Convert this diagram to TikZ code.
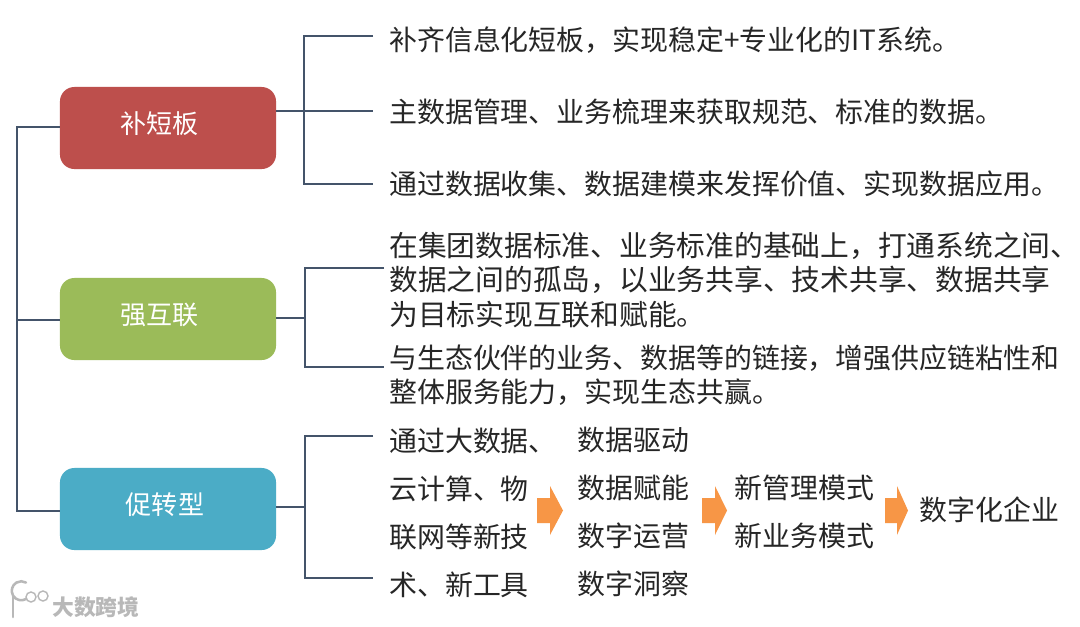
\documentclass[tikz,border=0pt]{standalone}
\usepackage{fontspec}
\setmainfont{Noto Sans CJK SC}
\usepackage{tikz}
\newcommand{\qcomma}{\char"FF0C\relax}
\definecolor{linegray}{HTML}{44546A}
\definecolor{boxred}{HTML}{BD4F4C}
\definecolor{boxgreen}{HTML}{9BBB59}
\definecolor{boxblue}{HTML}{4BACC6}
\definecolor{arroworange}{HTML}{F79646}
\tikzset{
  topicbox/.style={rounded corners=0.36cm,minimum width=5.4cm,minimum height=2.05cm,inner sep=0pt,outer sep=0pt},
  topiclabel/.style={text=white,font=\fontsize{18.5}{22}\selectfont,inner sep=0pt},
  itemtext/.style={anchor=west,align=left,inner sep=0pt,text=black!85,font=\fontsize{19.85}{24.6}\selectfont},
  widetext/.style={itemtext,font=\fontsize{20.45}{24.6}\selectfont},
  steptext/.style={anchor=west,align=left,inner sep=0pt,text=black!85,font=\fontsize{19.85}{34.2}\selectfont},
  branch/.style={draw=linegray,line width=1.1pt},
  logotext/.style={text=black!28,inner sep=0pt,font=\fontsize{15.5}{18}\selectfont\bfseries},
}
\begin{document}
\begin{tikzpicture}[x=0.025cm,y=-0.025cm]
  \useasboundingbox (0,0) rectangle (1080,626);
  \fill[white] (0,0) rectangle (1080,626);
  % boxes
  \node[topicbox,fill=boxred] (bu) at (168,128) {};
  \node[topicbox,fill=boxgreen] (qiang) at (168,319) {};
  \node[topicbox,fill=boxblue] (cu) at (168,509) {};
  \node[topiclabel] (bulabel) at (159.5,124) {补短板};
  \node[topiclabel] (qianglabel) at (159.5,315) {强互联};
  \node[topiclabel] (culabel) at (165,505) {促转型};
  % texts
  \node[itemtext] (bua) at (389,40) {补齐信息化短板\qcomma 实现稳定+专业化的IT系统。};
  \node[itemtext] (bub) at (389,112) {主数据管理、业务梳理来获取规范、标准的数据。};
  \node[itemtext] (buc) at (389,184) {通过数据收集、数据建模来发挥价值、实现数据应用。};
  \node[widetext] (qianga) at (389,280) {在集团数据标准、业务标准的基础上\qcomma 打通系统之间、\\数据之间的孤岛\qcomma 以业务共享、技术共享、数据共享\\为目标实现互联和赋能。};
  \node[itemtext] (qiangb) at (389,375) {与生态伙伴的业务、数据等的链接\qcomma 增强供应链粘性和\\整体服务能力\qcomma 实现生态共赢。};
  \node[steptext] (cua) at (389,513) {通过大数据、\\云计算、物\\联网等新技\\术、新工具};
  \node[steptext] (cub) at (577.5,512) {数据驱动\\数据赋能\\数字运营\\数字洞察};
  \node[steptext] (cuc) at (734.5,512) {新管理模式\\新业务模式};
  \node[itemtext] (cud) at (919.5,510) {数字化企业};
  % trunk
  \coordinate (trunktop) at (17,127);
  \coordinate (trunkmid) at (17,320);
  \coordinate (trunkbot) at (17,511);
  \draw[branch] (bu.west |- trunktop) -- (trunktop) -- (trunkbot) -- (cu.west |- trunkbot);
  \draw[branch] (trunkmid) -- (qiang.west |- trunkmid);
  % first bracket
  \coordinate (bustem) at (304,111);
  \coordinate (buaend) at (373,36);
  \coordinate (bubend) at (373,111);
  \coordinate (bucend) at (373,184);
  \draw[branch] (bu.east |- bustem) -- (bubend);
  \draw[branch] (buaend) -- (bustem |- buaend) -- (bustem |- bucend) -- (bucend);
  % second bracket
  \coordinate (qiangstem) at (305,318);
  \coordinate (qiangaend) at (384,268);
  \coordinate (qiangbend) at (384,367);
  \draw[branch] (qiang.east |- qiangstem) -- (qiangstem);
  \draw[branch] (qiangaend) -- (qiangstem |- qiangaend) -- (qiangstem |- qiangbend) -- (qiangbend);
  % third bracket
  \coordinate (custem) at (305,507);
  \coordinate (cuaend) at (373,436);
  \coordinate (cubend) at (373,578);
  \draw[branch] (cu.east |- custem) -- (custem);
  \draw[branch] (cuaend) -- (custem |- cuaend) -- (custem |- cubend) -- (cubend);
  % arrows
  \foreach \ax/\bx/\tx in {537/550/563,702/715/727,885/897/908}
    \fill[arroworange] (\ax,498) -- (\bx,498) -- (\bx,486) -- (\tx,510.5) -- (\bx,535) -- (\bx,523) -- (\ax,523) -- cycle;
  % watermark
  \draw[black!28,line width=1.8pt,line cap=round] (13,597) -- (13,617);
  \draw[black!28,line width=1.8pt,line cap=round] (26,599) arc (60:300:9.5);
  \draw[black!28,line width=1pt] (31,597) circle (5);
  \draw[black!28,line width=1pt] (43,596) circle (5);
  \node[logotext,anchor=west] (logoname) at (52,607) {大数跨境};
\end{tikzpicture}
\end{document}
